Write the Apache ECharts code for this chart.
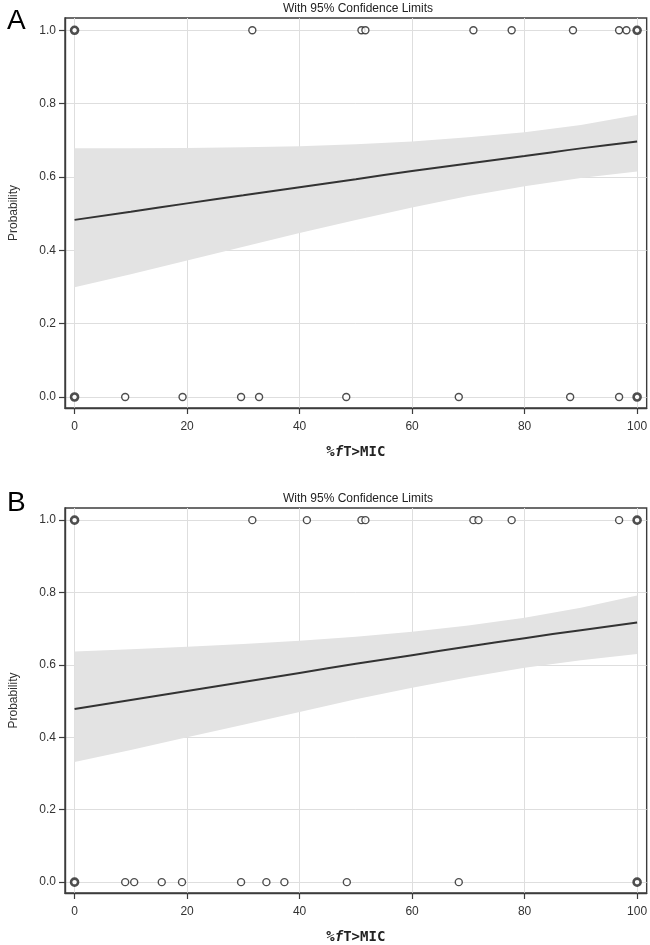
<!DOCTYPE html>
<html><head><meta charset="utf-8">
<script src="https://cdn.jsdelivr.net/npm/echarts@6/dist/echarts.min.js"></script>
<style>html,body{margin:0;padding:0;background:#fff}#c{width:650px;height:945px}</style>
</head><body><div id="c"></div>
<script>
// ---- data ----
const curveX = [0,10,20,30,40,50,60,70,80,90,100];
// Panel A
const fitA   = [0.483,0.505,0.528,0.550,0.572,0.594,0.616,0.637,0.657,0.678,0.697];
const upperA = [0.678,0.678,0.679,0.681,0.684,0.689,0.697,0.708,0.722,0.742,0.769];
const lowerA = [0.299,0.335,0.372,0.410,0.447,0.483,0.517,0.548,0.575,0.597,0.615];
const succA  = [0,0,0,31.6,51.0,51.7,70.9,77.7,88.6,96.8,98.1,100,100,100];
const failA  = [0,0,0,9.0,19.2,29.6,32.8,48.3,68.3,88.1,96.8,100,100,100];
// Panel B
const fitB   = [0.478,0.503,0.528,0.553,0.578,0.603,0.627,0.651,0.674,0.696,0.717];
const upperB = [0.637,0.643,0.650,0.658,0.667,0.678,0.692,0.709,0.730,0.758,0.792];
const lowerB = [0.332,0.365,0.400,0.435,0.470,0.505,0.537,0.566,0.592,0.613,0.630];
const succB  = [0,0,0,31.6,41.3,51.0,51.7,70.9,71.8,77.7,96.8,100,100,100];
const failB  = [0,0,0,9.0,10.6,15.5,19.1,29.6,34.1,37.3,48.4,68.3,100,100,100];
const yTicks = [0,0.2,0.4,0.6,0.8,1.0];
const xTicks = [0,20,40,60,80,100];
const subtitle = 'With 95% Confidence Limits';

// ---- build ----
function pts(xs, y) {
  const cnt = {};
  xs.forEach(v => cnt[v] = (cnt[v] || 0) + 1);
  return Object.keys(cnt).map(k => ({
    value: [Number(k), y],
    itemStyle: { borderWidth: cnt[k] > 1 ? 2.6 : 1.4 }
  }));
}
const grids = [
  { left: 58, top: 18, width: 590, height: 390 },
  { left: 58, top: 508, width: 590, height: 390 }
].map(g => Object.assign(g, { show: true, borderColor: '#3c3c3c', borderWidth: 1.4, backgroundColor: 'transparent' }));

function xAxis(i) {
  return {
    gridIndex: i, type: 'value', min: -1.7, max: 101.7,
    name: '{a|%}{f|f}{a|T>MIC}', nameLocation: 'middle', nameGap: 37,
    nameTextStyle: { rich: {
      a: { fontFamily: 'DejaVu Sans Mono', fontWeight: 'bold', fontSize: 14, color: '#222' },
      f: { fontFamily: 'DejaVu Sans Mono', fontStyle: 'italic', fontWeight: 'bold', fontSize: 14, color: '#222' }
    }},
    axisLine: { show: true, onZero: false, lineStyle: { color: '#3c3c3c', width: 1.4 } },
    axisTick: { show: true, inside: false, length: 6, customValues: xTicks, lineStyle: { color: '#3c3c3c', width: 1.2 } },
    axisLabel: { customValues: xTicks, margin: 13, fontFamily: 'Liberation Sans', fontSize: 12, color: '#333' },
    splitLine: { show: true, lineStyle: { color: '#dedede', width: 1 } }
  };
}
function yAxis(i) {
  return {
    gridIndex: i, type: 'value', min: -0.03, max: 1.0335,
    name: 'Probability', nameLocation: 'middle', nameGap: 45, nameRotate: 90,
    nameTextStyle: { fontFamily: 'Liberation Sans', fontSize: 12, color: '#333' },
    axisLine: { show: true, onZero: false, lineStyle: { color: '#3c3c3c', width: 1.4 } },
    axisTick: { show: true, inside: false, length: 6, customValues: yTicks, lineStyle: { color: '#3c3c3c', width: 1.2 } },
    axisLabel: { customValues: yTicks, margin: 9, fontFamily: 'Liberation Sans', fontSize: 12, color: '#333',
      formatter: v => v.toFixed(1) },
    splitLine: { show: true, lineStyle: { color: '#dedede', width: 1 } }
  };
}
function bandSeries(i, upper, lower) {
  return {
    type: 'custom', xAxisIndex: i, yAxisIndex: i, silent: true, z: 1,
    data: curveX.map((x, k) => [x, lower[k], upper[k]]),
    encode: { x: 0, y: [1, 2] },
    renderItem: function (params, api) {
      if (params.dataIndex !== 0) return;
      const top = [], bot = [];
      for (let k = 0; k < curveX.length; k++) {
        top.push(api.coord([curveX[k], upper[k]]));
        bot.push(api.coord([curveX[k], lower[k]]));
      }
      return {
        type: 'polygon',
        shape: { points: top.concat(bot.reverse()) },
        style: { fill: '#e3e3e3', stroke: null }
      };
    }
  };
}
function panelSeries(i, fit, upper, lower, succ, fail) {
  const base = { xAxisIndex: i, yAxisIndex: i };
  return [
    bandSeries(i, upper, lower),
    Object.assign({ type: 'line', data: curveX.map((x, k) => [x, fit[k]]), smooth: true,
      symbol: 'none', lineStyle: { color: '#333', width: 2 }, z: 3 }, base),
    Object.assign({ type: 'scatter', data: pts(succ, 1).concat(pts(fail, 0)), symbol: 'circle', symbolSize: 7,
      itemStyle: { color: '#fff', borderColor: '#222' }, z: 4 }, base)
  ];
}
const chart = echarts.init(document.getElementById('c'), null, { renderer: 'canvas' });
chart.setOption({
  animation: false,
  backgroundColor: '#fff',
  title: [
    { text: subtitle, left: 353, top: -2, textAlign: 'center', textStyle: { fontFamily: 'Liberation Sans', fontSize: 12, fontWeight: 'normal', color: '#222' } },
    { text: subtitle, left: 353, top: 488, textAlign: 'center', textStyle: { fontFamily: 'Liberation Sans', fontSize: 12, fontWeight: 'normal', color: '#222' } },
    { text: 'A', left: 2, top: 2, textStyle: { fontFamily: 'Liberation Sans', fontSize: 28, fontWeight: 'normal', color: '#000' } },
    { text: 'B', left: 2, top: 484, textStyle: { fontFamily: 'Liberation Sans', fontSize: 28, fontWeight: 'normal', color: '#000' } }
  ],
  grid: grids,
  xAxis: [xAxis(0), xAxis(1)],
  yAxis: [yAxis(0), yAxis(1)],
  series: panelSeries(0, fitA, upperA, lowerA, succA, failA).concat(panelSeries(1, fitB, upperB, lowerB, succB, failB))
});
</script></body></html>
